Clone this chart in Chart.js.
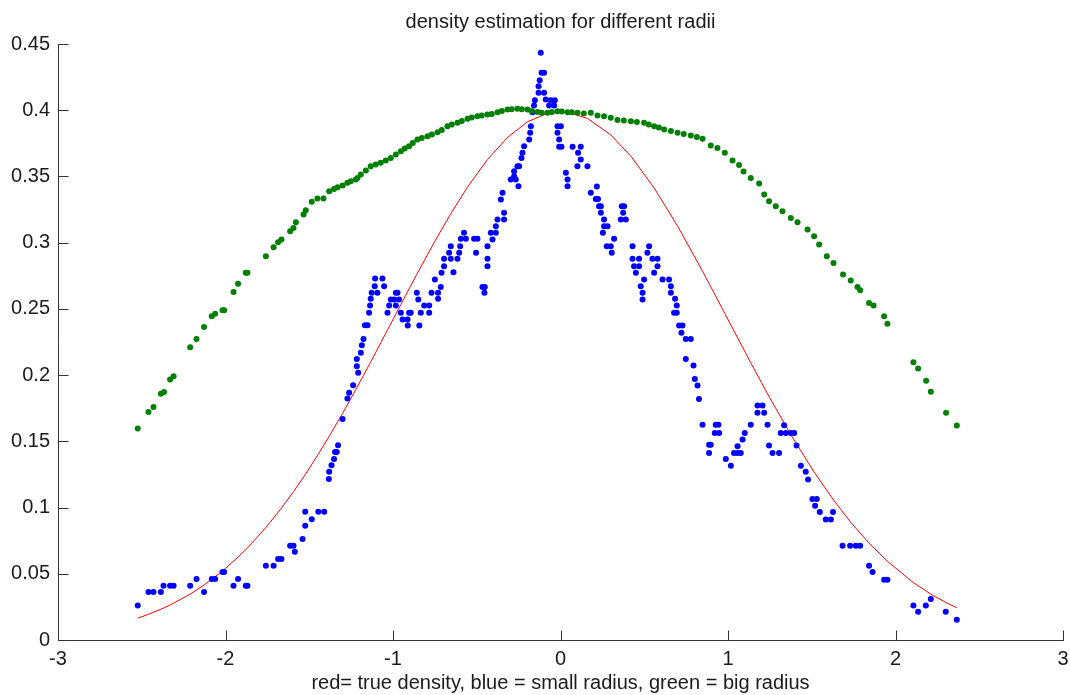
<!DOCTYPE html>
<html><head><meta charset="utf-8">
<script src="https://cdn.jsdelivr.net/npm/chart.js@4.4.1/dist/chart.umd.min.js"></script>
<style>html,body{margin:0;padding:0;background:#fff;}#wrap{width:1070px;height:695px;}</style>
</head><body><div id="wrap"><canvas id="c" width="1070" height="695"></canvas></div>
<script>
const titleText = 'density estimation for different radii';
const xLabelText = 'red= true density, blue = small radius, green = big radius';
const xTickValues = [-3, -2, -1, 0, 1, 2, 3];
const yTickValues = [0, 0.05, 0.1, 0.15, 0.2, 0.25, 0.3, 0.35, 0.4, 0.45];
const yTickLabels = ['0', '0.05', '0.1', '0.15', '0.2', '0.25', '0.3', '0.35', '0.4', '0.45'];

// true density (red line)
const redPoints = [[-2.524,0.0165],[-2.460,0.0194],[-2.386,0.0232],[-2.331,0.0264],[-2.211,0.0346],[-2.128,0.0415],[-2.018,0.0521],[-1.925,0.0626],[-1.869,0.0695],[-1.759,0.0849],[-1.666,0.0996],[-1.594,0.1120],[-1.524,0.1249],[-1.446,0.1403],[-1.381,0.1538],[-1.301,0.1711],[-1.216,0.1905],[-1.133,0.2100],[-1.033,0.2340],[-0.953,0.2533],[-0.858,0.2761],[-0.750,0.3011],[-0.655,0.3219],[-0.555,0.3420],[-0.436,0.3628],[-0.316,0.3795],[-0.197,0.3913],[-0.078,0.3977],[0.042,0.3986],[0.161,0.3938],[0.300,0.3814],[0.420,0.3653],[0.559,0.3413],[0.699,0.3125],[0.848,0.2785],[0.981,0.2465],[1.136,0.2093],[1.245,0.1838],[1.375,0.1550],[1.514,0.1268],[1.630,0.1057],[1.733,0.0888],[1.842,0.0731],[1.952,0.0594],[2.107,0.0433],[2.211,0.0346],[2.302,0.0282],[2.366,0.0243]];

// small radius estimate (blue dots)
const bluePoints = [[-2.524,0.0261],[-2.460,0.0363],[-2.430,0.0363],[-2.386,0.0363],[-2.370,0.0410],[-2.331,0.0410],[-2.310,0.0410],[-2.211,0.0410],[-2.173,0.0461],[-2.128,0.0363],[-2.082,0.0461],[-2.062,0.0461],[-2.018,0.0514],[-2.008,0.0514],[-1.952,0.0410],[-1.925,0.0461],[-1.879,0.0410],[-1.869,0.0410],[-1.759,0.0561],[-1.713,0.0561],[-1.686,0.0612],[-1.666,0.0612],[-1.614,0.0712],[-1.594,0.0712],[-1.586,0.0667],[-1.540,0.0763],[-1.524,0.0863],[-1.524,0.0969],[-1.485,0.0912],[-1.446,0.0969],[-1.411,0.0969],[-1.383,0.1216],[-1.381,0.1271],[-1.367,0.1319],[-1.352,0.1366],[-1.346,0.1420],[-1.336,0.1420],[-1.328,0.1470],[-1.301,0.1669],[-1.272,0.1823],[-1.262,0.1866],[-1.238,0.1923],[-1.216,0.2066],[-1.208,0.2017],[-1.216,0.2122],[-1.192,0.2168],[-1.186,0.2225],[-1.176,0.2273],[-1.168,0.2376],[-1.152,0.2376],[-1.143,0.2470],[-1.137,0.2525],[-1.133,0.2576],[-1.127,0.2621],[-1.093,0.2621],[-1.109,0.2671],[-1.053,0.2671],[-1.107,0.2729],[-1.063,0.2729],[-1.033,0.2470],[-1.023,0.2525],[-1.013,0.2570],[-0.993,0.2570],[-0.983,0.2621],[-0.973,0.2621],[-0.983,0.2525],[-0.964,0.2570],[-0.953,0.2470],[-0.943,0.2419],[-0.913,0.2419],[-0.904,0.2470],[-0.912,0.2374],[-0.894,0.2470],[-0.858,0.2621],[-0.849,0.2570],[-0.843,0.2374],[-0.834,0.2470],[-0.814,0.2525],[-0.784,0.2525],[-0.784,0.2470],[-0.770,0.2621],[-0.731,0.2621],[-0.731,0.2576],[-0.750,0.2721],[-0.715,0.2666],[-0.710,0.2772],[-0.695,0.2822],[-0.639,0.2776],[-0.695,0.2878],[-0.655,0.2878],[-0.615,0.2878],[-0.665,0.2923],[-0.655,0.2973],[-0.605,0.2923],[-0.599,0.2973],[-0.595,0.3029],[-0.565,0.3029],[-0.576,0.3074],[-0.516,0.3029],[-0.496,0.3029],[-0.504,0.2923],[-0.466,0.2666],[-0.452,0.2666],[-0.454,0.2621],[-0.436,0.2973],[-0.436,0.2878],[-0.436,0.2822],[-0.416,0.3074],[-0.406,0.3023],[-0.386,0.3074],[-0.386,0.3124],[-0.376,0.3174],[-0.337,0.3174],[-0.337,0.3225],[-0.356,0.3326],[-0.346,0.3376],[-0.297,0.3477],[-0.267,0.3477],[-0.277,0.3502],[-0.277,0.3539],[-0.257,0.3577],[-0.247,0.3577],[-0.251,0.3426],[-0.233,0.3640],[-0.227,0.3678],[-0.217,0.3728],[-0.187,0.3779],[-0.181,0.3829],[-0.177,0.3879],[-0.167,0.3985],[-0.158,0.4036],[-0.153,0.4076],[-0.131,0.4131],[-0.098,0.4131],[-0.131,0.4181],[-0.124,0.4227],[-0.113,0.4282],[-0.098,0.4282],[-0.118,0.4434],[-0.088,0.4081],[-0.058,0.4076],[-0.034,0.4076],[-0.068,0.4036],[-0.038,0.4036],[-0.018,0.3879],[0.002,0.3879],[-0.018,0.3829],[-0.008,0.3779],[-0.008,0.3724],[0.006,0.3724],[0.032,0.3527],[0.042,0.3477],[0.042,0.3426],[0.072,0.3724],[0.121,0.3724],[0.105,0.3678],[0.121,0.3628],[0.101,0.3577],[0.161,0.3577],[0.217,0.3424],[0.181,0.3376],[0.211,0.3329],[0.224,0.3329],[0.230,0.3275],[0.241,0.3275],[0.241,0.3225],[0.260,0.3174],[0.260,0.3124],[0.281,0.3124],[0.253,0.3074],[0.320,0.3029],[0.276,0.2973],[0.300,0.2973],[0.306,0.2923],[0.366,0.3275],[0.380,0.3275],[0.374,0.3225],[0.360,0.3174],[0.390,0.3174],[0.430,0.2973],[0.529,0.2973],[0.519,0.2923],[0.430,0.2878],[0.469,0.2878],[0.549,0.2878],[0.579,0.2878],[0.439,0.2822],[0.469,0.2822],[0.579,0.2822],[0.450,0.2772],[0.559,0.2772],[0.499,0.2721],[0.609,0.2721],[0.648,0.2721],[0.479,0.2671],[0.490,0.2621],[0.490,0.2570],[0.659,0.2671],[0.659,0.2621],[0.684,0.2576],[0.694,0.2525],[0.678,0.2470],[0.694,0.2470],[0.708,0.2374],[0.728,0.2374],[0.722,0.2319],[0.748,0.2273],[0.778,0.2273],[0.748,0.2122],[0.794,0.2072],[0.802,0.1971],[0.818,0.1921],[0.827,0.1820],[0.848,0.1626],[0.927,0.1626],[0.943,0.1626],[0.921,0.1563],[0.947,0.1563],[0.887,0.1475],[0.897,0.1475],[0.887,0.1412],[0.987,0.1367],[1.017,0.1316],[1.036,0.1412],[1.057,0.1412],[1.076,0.1412],[1.057,0.1462],[1.087,0.1513],[1.100,0.1563],[1.136,0.1626],[1.176,0.1770],[1.206,0.1770],[1.176,0.1715],[1.216,0.1715],[1.236,0.1626],[1.245,0.1468],[1.266,0.1412],[1.305,0.1412],[1.335,0.1621],[1.315,0.1563],[1.345,0.1563],[1.375,0.1563],[1.395,0.1563],[1.409,0.1468],[1.435,0.1316],[1.464,0.1271],[1.478,0.1211],[1.504,0.1065],[1.530,0.1065],[1.520,0.1014],[1.548,0.0967],[1.584,0.0909],[1.614,0.0909],[1.627,0.0967],[1.684,0.0712],[1.729,0.0712],[1.763,0.0712],[1.789,0.0712],[1.842,0.0561],[1.863,0.0514],[1.932,0.0455],[1.952,0.0455],[2.107,0.0261],[2.135,0.0214],[2.181,0.0261],[2.211,0.0310],[2.300,0.0214],[2.366,0.0153]];

// big radius estimate (green dots)
const greenPoints = [[-2.524,0.1596],[-2.460,0.1722],[-2.430,0.1760],[-2.386,0.1860],[-2.367,0.1873],[-2.331,0.1966],[-2.310,0.1991],[-2.211,0.2210],[-2.173,0.2273],[-2.128,0.2364],[-2.082,0.2444],[-2.062,0.2464],[-2.018,0.2489],[-2.008,0.2489],[-1.952,0.2628],[-1.925,0.2689],[-1.879,0.2772],[-1.869,0.2772],[-1.759,0.2897],[-1.713,0.2965],[-1.686,0.3003],[-1.666,0.3023],[-1.614,0.3086],[-1.594,0.3110],[-1.580,0.3154],[-1.534,0.3212],[-1.521,0.3245],[-1.485,0.3308],[-1.451,0.3333],[-1.415,0.3333],[-1.381,0.3388],[-1.352,0.3406],[-1.331,0.3418],[-1.301,0.3431],[-1.272,0.3452],[-1.252,0.3464],[-1.222,0.3477],[-1.212,0.3489],[-1.192,0.3514],[-1.162,0.3545],[-1.133,0.3577],[-1.103,0.3590],[-1.073,0.3603],[-1.043,0.3620],[-1.013,0.3640],[-0.983,0.3665],[-0.953,0.3690],[-0.930,0.3711],[-0.904,0.3728],[-0.882,0.3752],[-0.854,0.3779],[-0.828,0.3790],[-0.794,0.3804],[-0.768,0.3816],[-0.734,0.3834],[-0.709,0.3850],[-0.675,0.3879],[-0.649,0.3892],[-0.615,0.3905],[-0.589,0.3918],[-0.555,0.3935],[-0.530,0.3945],[-0.496,0.3955],[-0.470,0.3960],[-0.436,0.3968],[-0.410,0.3971],[-0.376,0.3985],[-0.350,0.3994],[-0.316,0.4005],[-0.291,0.4008],[-0.257,0.4011],[-0.231,0.4007],[-0.197,0.4005],[-0.171,0.3994],[-0.137,0.3986],[-0.112,0.3980],[-0.078,0.3980],[-0.052,0.3986],[-0.018,0.3992],[0.008,0.3990],[0.042,0.3985],[0.067,0.3984],[0.101,0.3980],[0.139,0.3975],[0.181,0.3980],[0.221,0.3960],[0.260,0.3955],[0.300,0.3943],[0.340,0.3926],[0.378,0.3922],[0.420,0.3917],[0.456,0.3911],[0.499,0.3905],[0.527,0.3892],[0.559,0.3879],[0.587,0.3869],[0.619,0.3854],[0.659,0.3843],[0.699,0.3829],[0.736,0.3820],[0.778,0.3809],[0.814,0.3798],[0.848,0.3784],[0.897,0.3733],[0.937,0.3715],[0.981,0.3678],[1.027,0.3620],[1.066,0.3586],[1.093,0.3537],[1.136,0.3489],[1.186,0.3446],[1.216,0.3363],[1.245,0.3313],[1.285,0.3275],[1.325,0.3237],[1.375,0.3187],[1.415,0.3154],[1.475,0.3100],[1.514,0.3048],[1.544,0.2986],[1.590,0.2897],[1.630,0.2847],[1.687,0.2759],[1.733,0.2714],[1.773,0.2666],[1.789,0.2640],[1.842,0.2545],[1.869,0.2525],[1.932,0.2444],[1.952,0.2387],[2.107,0.2097],[2.135,0.2049],[2.183,0.1958],[2.211,0.1875],[2.302,0.1715],[2.366,0.1619]];

const toXY = arr => arr.map(p => ({x: p[0], y: p[1]}));
const AXIS_COLOR = '#333333';
const TEXT_COLOR = '#1a1a1a';
Chart.defaults.font.family = '"Liberation Sans", Arial, sans-serif';
Chart.defaults.font.size = 20;
Chart.defaults.color = TEXT_COLOR;

const axesPlugin = {
  id: 'matlabAxes',
  beforeDatasetsDraw(chart) {
    const {ctx, chartArea: a, scales: {x, y}} = chart;
    ctx.save();
    ctx.strokeStyle = AXIS_COLOR;
    ctx.lineWidth = 1;
    ctx.beginPath();
    const L = Math.round(a.left) + 0.5, B = Math.round(a.bottom) + 0.5;
    ctx.moveTo(L, Math.round(a.top)); ctx.lineTo(L, B);
    ctx.lineTo(Math.round(a.right) + 1, B);
    x.ticks.forEach(t => {
      const px = Math.round(x.getPixelForValue(t.value)) + 0.5;
      ctx.moveTo(px, B); ctx.lineTo(px, B - 10);
    });
    y.ticks.forEach(t => {
      const py = Math.round(y.getPixelForValue(t.value)) + 0.5;
      ctx.moveTo(L, py); ctx.lineTo(L + 10, py);
    });
    ctx.stroke();
    ctx.restore();
  }
};

new Chart(document.getElementById('c'), {
  type: 'scatter',
  data: {
    datasets: [
      {label: 'big radius', data: toXY(greenPoints), backgroundColor: '#008000', borderWidth: 0, pointRadius: 3, pointHoverRadius: 3},
      {label: 'small radius', data: toXY(bluePoints), backgroundColor: '#0000ff', borderWidth: 0, pointRadius: 3, pointHoverRadius: 3},
      {label: 'true density', data: toXY(redPoints), showLine: true, borderColor: '#ff0000', borderWidth: 1, pointRadius: 0, tension: 0, fill: false}
    ]
  },
  options: {
    responsive: false,
    animation: false,
    events: [],
    layout: {padding: {left: 0, right: 7, top: 0, bottom: 0}},
    plugins: {
      legend: {display: false},
      tooltip: {enabled: false},
      title: {display: false}
    },
    scales: {
      x: {
        type: 'linear', min: -3, max: 3,
        afterBuildTicks: s => { s.ticks = xTickValues.map(v => ({value: v})); },
        afterFit: s => { s.height = 55; s.paddingLeft = 0; s.paddingRight = 0; },
        grid: {display: false, drawTicks: false},
        border: {display: false},
        ticks: {padding: 7, color: TEXT_COLOR, maxRotation: 0, autoSkip: false, callback: v => String(v)},
        title: {display: true, text: xLabelText, color: TEXT_COLOR, font: {size: 20}, padding: {top: 0, bottom: 0}}
      },
      xTop: {
        type: 'linear', position: 'top', min: -3, max: 3,
        afterFit: s => { s.height = 44; s.paddingLeft = 0; s.paddingRight = 0; },
        grid: {display: false, drawTicks: false},
        border: {display: false},
        ticks: {display: false},
        title: {display: true, text: titleText, color: TEXT_COLOR, font: {size: 20}, padding: {top: 10, bottom: 0}}
      },
      y: {
        type: 'linear', min: 0, max: 0.45,
        afterBuildTicks: s => { s.ticks = yTickValues.map(v => ({value: v})); },
        afterFit: s => { s.width = 58; },
        grid: {display: false, drawTicks: false},
        border: {display: false},
        ticks: {padding: 8, color: TEXT_COLOR, autoSkip: false, callback: (v, i) => yTickLabels[i]}
      }
    }
  },
  plugins: [axesPlugin]
});
</script>
</body></html>
